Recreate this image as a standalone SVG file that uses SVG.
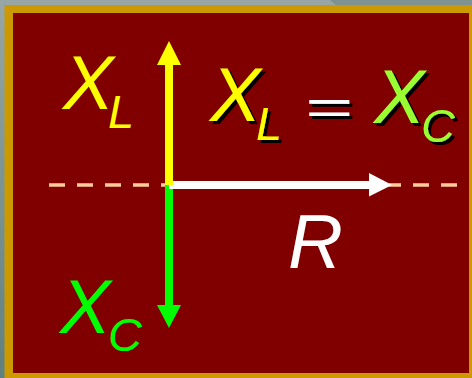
<svg xmlns="http://www.w3.org/2000/svg" width="472" height="378" viewBox="0 0 472 378">
  <defs>
    <linearGradient id="bg" x1="0" y1="0" x2="0" y2="1">
      <stop offset="0" stop-color="#98a6a6"/>
      <stop offset="1" stop-color="#5f8080"/>
    </linearGradient>
    <filter id="shadow" x="-10%" y="-10%" width="130%" height="130%">
      <feOffset in="SourceAlpha" dx="3" dy="3" result="off"/>
      <feMerge>
        <feMergeNode in="off"/>
        <feMergeNode in="SourceGraphic"/>
      </feMerge>
    </filter>
    <style>
      .t { font-family: "Liberation Sans", Arial, sans-serif; font-style: italic; }
      .big { font-size: 76px; }
      .sub { font-size: 47px; }
      .eq { font-size: 50px; }
    </style>
  </defs>
  <rect x="0" y="0" width="472" height="378" fill="url(#bg)"/>
  <polygon points="330,0 472,0 472,5 336,5" fill="#7f9292"/>
  <rect x="4.5" y="5" width="470" height="376" fill="#cc9900"/>
  <rect x="13" y="13" width="456" height="360" fill="#800000"/>

  <g id="connectors">
    <line x1="49" y1="185" x2="469" y2="185" stroke="#ffcc99" stroke-width="3.5" stroke-dasharray="16 12"/>
    <g id="arrow-xc">
      <rect x="165" y="185" width="8" height="121" fill="#00ff00"/>
      <polygon points="157,305 181,305 169,328" fill="#00ff00"/>
    </g>
    <g id="arrow-r">
      <rect x="169" y="181" width="201" height="8" fill="#ffffff"/>
      <polygon points="369,173 369,196.5 392,185" fill="#ffffff"/>
    </g>
    <g id="arrow-xl">
      <rect x="165" y="64" width="8" height="121" fill="#ffff00"/>
      <polygon points="157,65 181,65 169,41" fill="#ffff00"/>
    </g>
  </g>

  <g id="label-xl" class="t" fill="#ffff00">
    <text x="63" y="109" class="big">X</text>
    <text x="108" y="128" class="sub">L</text>
  </g>

  <g id="equation" class="t" filter="url(#shadow)">
    <text x="210" y="121" class="big" fill="#ffff00">X</text>
    <text x="256" y="140" class="sub" fill="#ffff00">L</text>
    <text transform="translate(304,124) scale(1.65,1)" x="0" y="0" class="eq" fill="#ffffff">=</text>
    <text x="374" y="123" class="big" fill="#99ff33">X</text>
    <text x="421" y="142" class="sub" fill="#99ff33">C</text>
  </g>

  <g id="label-r" class="t" fill="#ffffff">
    <text x="288" y="268" class="big">R</text>
  </g>

  <g id="label-xc" class="t" fill="#00ff00">
    <text x="60" y="333" class="big">X</text>
    <text x="108" y="351" class="sub">C</text>
  </g>
</svg>
